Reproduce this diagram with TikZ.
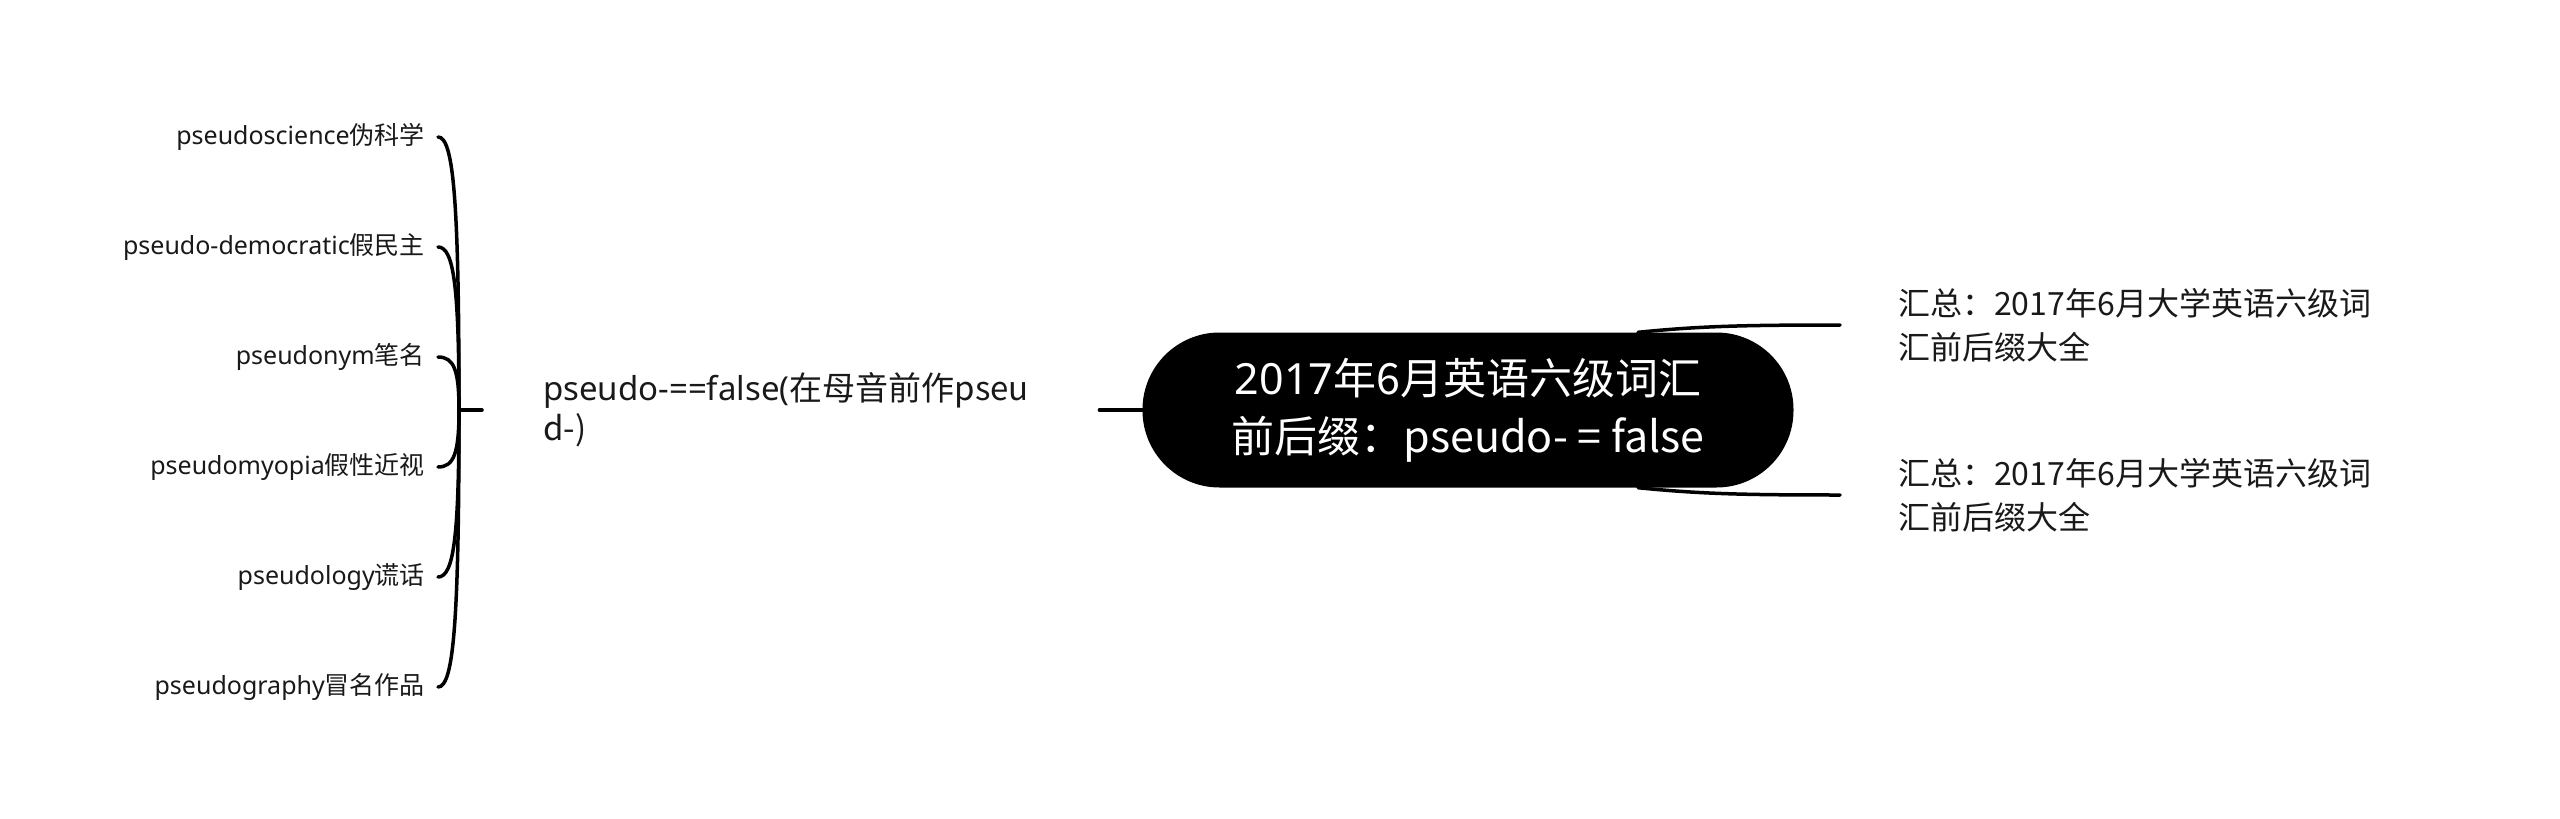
\documentclass[tikz,border=0pt]{standalone}
\usepackage{fontspec}
\setmainfont{Noto Sans}
\newfontfamily\cjk{Noto Sans CJK SC}
\begin{document}
\begin{tikzpicture}[x=1pt,y=-1pt,
  item/.style={anchor=east, inner xsep=13pt, inner ysep=2pt, text=black!90, font=\fontsize{25}{30}\selectfont},
  link/.style={line width=3.5pt, black, line cap=round},
  rootbox/.style={fill=black, text=white, rounded corners=77pt, minimum width=651pt, minimum height=155pt, align=center, inner sep=0pt, font=\fontsize{43}{58}\selectfont},
  midbox/.style={anchor=west, inner xsep=61pt, inner ysep=2pt, text width=495pt, align=left, text=black!90, font=\fontsize{33}{40}\selectfont},
  rightbox/.style={anchor=west, inner xsep=58pt, inner ysep=2pt, align=left, text=black!90, font=\fontsize{32}{44}\selectfont}]
\useasboundingbox (0,0) rectangle (2560,819);

\node[rootbox] (root) at (1468,410) {2017\cjk{年}6\cjk{月英语六级词汇}\\\cjk{前后缀：}pseudo- = false};

\node[midbox] (mid) at (482,410) {pseudo-==false(\cjk{在母音前作}pseu\\d-)};

\node[rightbox] (r1) at (1840,325) {\cjk{汇总：}2017\cjk{年}6\cjk{月大学英语六级词}\\\cjk{汇前后缀大全}};
\node[rightbox] (r2) at (1840,495) {\cjk{汇总：}2017\cjk{年}6\cjk{月大学英语六级词}\\\cjk{汇前后缀大全}};

\node[item] (i1) at (438,137) {pseudoscience\cjk{伪科学}};
\node[item] (i2) at (438,247) {pseudo-democratic\cjk{假民主}};
\node[item] (i3) at (438,357) {pseudonym\cjk{笔名}};
\node[item] (i4) at (438,467) {pseudomyopia\cjk{假性近视}};
\node[item] (i5) at (438,577) {pseudology\cjk{谎话}};
\node[item] (i6) at (438,687) {pseudography\cjk{冒名作品}};

\coordinate (tr) at (459,410);

\draw[link] (tr) -- (mid.west);
\draw[link] (mid.east) -- (root.west);

\draw[link] (i1.east) .. controls +(16,0) and +(0,-205) .. (tr);
\draw[link] (i2.east) .. controls +(16,0) and +(0,-122) .. (tr);
\draw[link] (i3.east) .. controls +(16,0) and +(0,-40) .. (tr);
\draw[link] (i4.east) .. controls +(16,0) and +(0,43) .. (tr);
\draw[link] (i5.east) .. controls +(16,0) and +(0,125) .. (tr);
\draw[link] (i6.east) .. controls +(16,0) and +(0,208) .. (tr);

\draw[link] ([xshift=170pt]root.north) .. controls +(60,-6) and +(-100,0) .. (r1.west);
\draw[link] ([xshift=170pt]root.south) .. controls +(60,6) and +(-100,0) .. (r2.west);
\end{tikzpicture}
\end{document}
